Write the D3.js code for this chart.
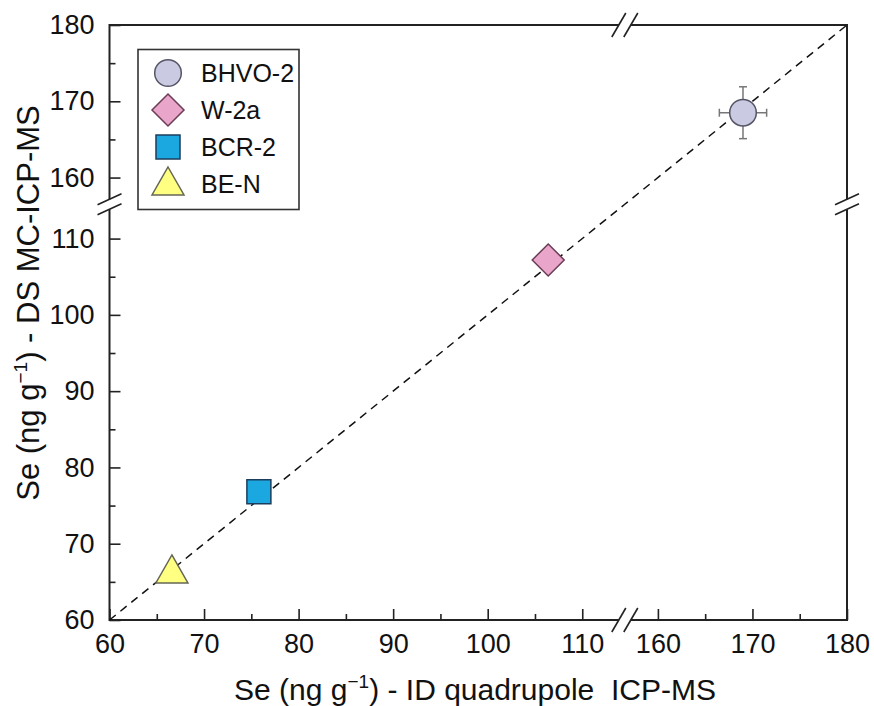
<!DOCTYPE html>
<html>
<head>
<meta charset="utf-8">
<script src="https://cdnjs.cloudflare.com/ajax/libs/d3/7.8.5/d3.min.js"></script>
<style>
  body { margin: 0; background: #fff; }
  svg { font-family: "Liberation Sans", Arial, sans-serif; }
</style>
</head>
<body>
<svg id="chart" width="874" height="706"></svg>
<script>
// samples: x = ID quadrupole ICP-MS, y = DS MC-ICP-MS
const samples = ["BHVO-2", "W-2a", "BCR-2", "BE-N"];
const xValues = [169.0, 106.4, 75.8, 66.6];
const yValues = [168.5, 107.2, 76.8, 66.3];
const xErr = [2.5, 0, 0, 0];
const yErr = [3.4, 0, 0, 0];
const shapes = ["circle", "diamond", "square", "triangle"];
const fills = ["#cacae2", "#eaa6ca", "#1ba8e0", "#ffff82"];
const strokes = ["#555566", "#6b3c55", "#1c3d5c", "#666655"];

// broken axes: 60–114.5 and 156.5–180
const breakLo = 114.5, breakHi = 156.5;
const majorTicks = [60, 70, 80, 90, 100, 110, 160, 170, 180];
const minorTicks = [65, 75, 85, 95, 105, 165, 175];
const oneToOne = [60, breakLo, breakHi, 180];

const plotL = 109.5, plotR = 847, plotT = 25, plotB = 620;
const frac = (breakLo - 60) / ((breakLo - 60) + (180 - breakHi));
const xBreakPx = plotL + frac * (plotR - plotL);
const yBreakPx = plotB - frac * (plotB - plotT);

const x = d3.scaleLinear()
    .domain([60, breakLo, breakHi, 180])
    .range([plotL, xBreakPx, xBreakPx, plotR]);
const y = d3.scaleLinear()
    .domain([60, breakLo, breakHi, 180])
    .range([plotB, yBreakPx, yBreakPx, plotT]);

const svg = d3.select("#chart");
const ink = "#222";

// axes (ticks inward)
svg.append("g")
    .attr("transform", "translate(0," + plotB + ")")
    .call(d3.axisBottom(x).tickValues(majorTicks).tickSize(-11).tickPadding(14));
svg.append("g")
    .attr("transform", "translate(0," + plotB + ")")
    .call(d3.axisBottom(x).tickValues(minorTicks).tickSize(-6).tickFormat(""));
svg.append("g")
    .attr("transform", "translate(" + plotL + ",0)")
    .call(d3.axisLeft(y).tickValues(majorTicks).tickSize(-11).tickPadding(15));
svg.append("g")
    .attr("transform", "translate(" + plotL + ",0)")
    .call(d3.axisLeft(y).tickValues(minorTicks).tickSize(-6).tickFormat(""));

svg.selectAll(".domain").remove();
svg.selectAll(".tick line").attr("stroke", ink).attr("stroke-width", 1.6);
svg.selectAll(".tick text")
    .attr("font-size", 27)
    .attr("fill", "#111")
    .attr("font-family", "Liberation Sans, Arial, sans-serif");

// frame
svg.append("rect")
    .attr("x", plotL).attr("y", plotT)
    .attr("width", plotR - plotL).attr("height", plotB - plotT)
    .attr("fill", "none").attr("stroke", ink).attr("stroke-width", 2);

// break marks
function hBreak(cx, cy) {
  svg.append("rect").attr("x", cx - 6).attr("y", cy - 3).attr("width", 12).attr("height", 6).attr("fill", "#fff");
  [-6, 6].forEach(o => {
    svg.append("line")
      .attr("x1", cx + o - 7).attr("y1", cy + 12)
      .attr("x2", cx + o + 7).attr("y2", cy - 12)
      .attr("stroke", ink).attr("stroke-width", 1.6);
  });
}
function vBreak(cx, cy) {
  svg.append("rect").attr("x", cx - 3).attr("y", cy - 5).attr("width", 6).attr("height", 10).attr("fill", "#fff");
  [-5, 5].forEach(o => {
    svg.append("line")
      .attr("x1", cx - 12).attr("y1", cy + o + 5.5)
      .attr("x2", cx + 12).attr("y2", cy + o - 5.5)
      .attr("stroke", ink).attr("stroke-width", 1.6);
  });
}
hBreak(xBreakPx, plotB);
hBreak(xBreakPx, plotT);
vBreak(plotL, yBreakPx);
vBreak(plotR, yBreakPx);

// 1:1 line
svg.append("path")
    .datum(oneToOne)
    .attr("d", d3.line().x(d => x(d)).y(d => y(d)))
    .attr("fill", "none")
    .attr("stroke", "#111")
    .attr("stroke-width", 1.5)
    .attr("stroke-dasharray", "8,6");

// marker shapes
function symbolPath(shape) {
  if (shape === "circle") return d3.symbol(d3.symbolCircle, Math.PI * 13.3 * 13.3)();
  if (shape === "square") return d3.symbol(d3.symbolSquare, 24 * 24)();
  if (shape === "diamond") return "M0,-16L16,0L0,16L-16,0Z";
  return "M0,-17L16,11L-16,11Z";
}

// error bars
const errColor = "#777";
samples.forEach((s, i) => {
  const g = svg.append("g").attr("stroke", errColor).attr("stroke-width", 1.5);
  if (xErr[i] > 0) {
    const x0 = x(xValues[i] - xErr[i]), x1 = x(xValues[i] + xErr[i]), yy = y(yValues[i]);
    g.append("line").attr("x1", x0).attr("x2", x1).attr("y1", yy).attr("y2", yy);
    g.append("line").attr("x1", x0).attr("x2", x0).attr("y1", yy - 4).attr("y2", yy + 4);
    g.append("line").attr("x1", x1).attr("x2", x1).attr("y1", yy - 4).attr("y2", yy + 4);
  }
  if (yErr[i] > 0) {
    const y0 = y(yValues[i] - yErr[i]), y1 = y(yValues[i] + yErr[i]), xx = x(xValues[i]);
    g.append("line").attr("x1", xx).attr("x2", xx).attr("y1", y0).attr("y2", y1);
    g.append("line").attr("x1", xx - 4).attr("x2", xx + 4).attr("y1", y0).attr("y2", y0);
    g.append("line").attr("x1", xx - 4).attr("x2", xx + 4).attr("y1", y1).attr("y2", y1);
  }
});

// points
svg.append("g").selectAll("path")
  .data(samples)
  .join("path")
    .attr("transform", (d, i) => "translate(" + x(xValues[i]) + "," + y(yValues[i]) + ")")
    .attr("d", (d, i) => symbolPath(shapes[i]))
    .attr("fill", (d, i) => fills[i])
    .attr("stroke", (d, i) => strokes[i])
    .attr("stroke-width", 1.5);

// legend
const legend = svg.append("g");
legend.append("rect")
    .attr("x", 138).attr("y", 49.5)
    .attr("width", 161).attr("height", 160)
    .attr("fill", "#fff").attr("stroke", "#333").attr("stroke-width", 1.6);
const rows = legend.selectAll("g.row")
  .data(samples)
  .join("g")
    .attr("class", "row")
    .attr("transform", (d, i) => "translate(168," + (73 + i * 37) + ")");
rows.append("path")
    .attr("d", (d, i) => symbolPath(shapes[i]))
    .attr("fill", (d, i) => fills[i])
    .attr("stroke", (d, i) => strokes[i])
    .attr("stroke-width", 1.5);
rows.append("text")
    .attr("x", 33).attr("y", 9)
    .attr("font-size", 25)
    .attr("fill", "#111")
    .text(d => d);

// axis titles
const xt = svg.append("text")
    .attr("x", 475).attr("y", 700)
    .attr("text-anchor", "middle")
    .attr("font-size", 30)
    .attr("fill", "#111");
xt.append("tspan").text("Se (ng g");
xt.append("tspan").attr("dy", -12).attr("font-size", 19).text("\u22121");
xt.append("tspan").attr("dy", 12).text(") - ID quadrupole\u00a0 ICP-MS");

const yt = svg.append("text")
    .attr("transform", "translate(39,303) rotate(-90)")
    .attr("text-anchor", "middle")
    .attr("font-size", 31)
    .attr("fill", "#111");
yt.append("tspan").text("Se (ng g");
yt.append("tspan").attr("dy", -12).attr("font-size", 19).text("\u22121");
yt.append("tspan").attr("dy", 12).text(") - DS MC-ICP-MS");
</script>
</body>
</html>
